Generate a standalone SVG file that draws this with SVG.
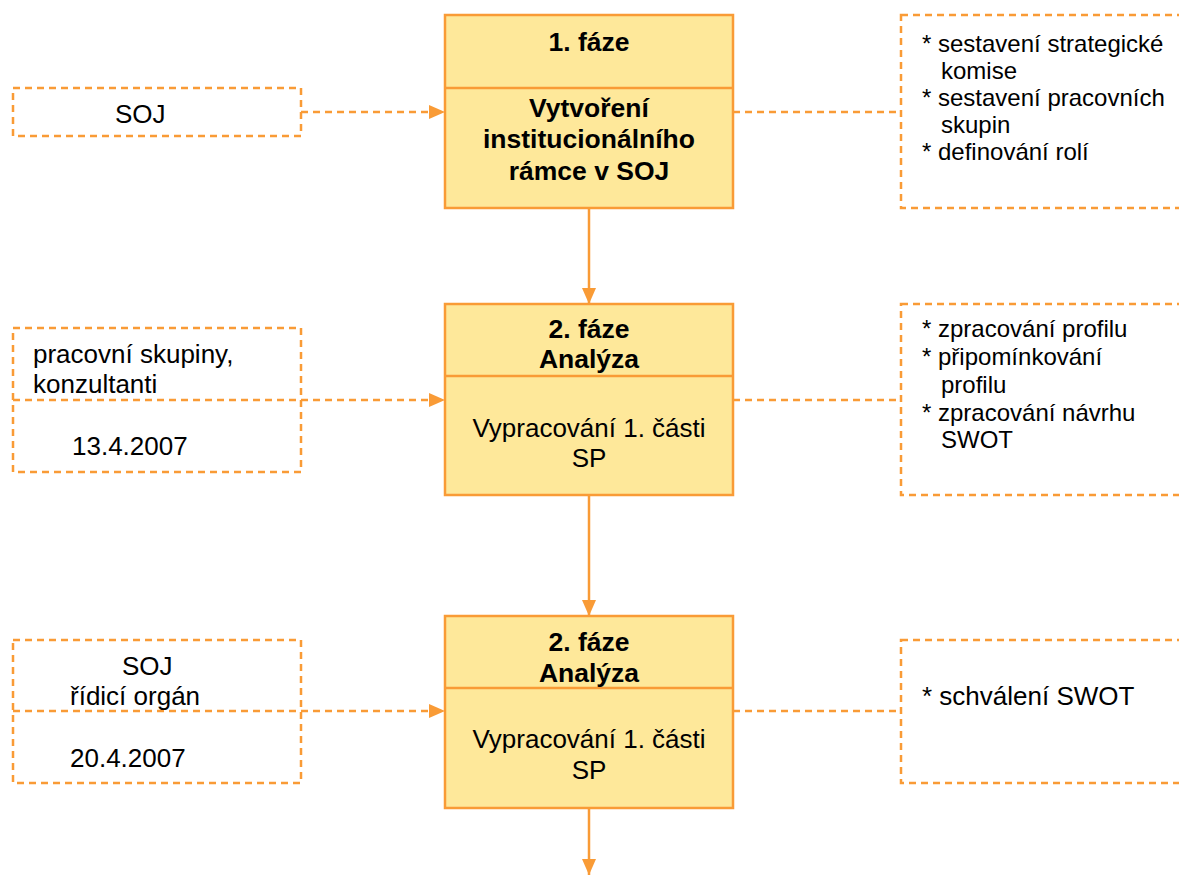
<svg xmlns="http://www.w3.org/2000/svg" width="1179" height="875" viewBox="0 0 1179 875">
<style>
.phase{fill:#FEE89A;stroke:#F99B36;stroke-width:2.5}
.div{stroke:#F99B36;stroke-width:2.5}
.note{fill:none;stroke:#F99B36;stroke-width:2.5;stroke-dasharray:7 5}
.flow{stroke:#F99B36;stroke-width:2.5;fill:none}
.dash{stroke:#F99B36;stroke-width:2.5;fill:none;stroke-dasharray:7 5}
text{font-family:"Liberation Sans",Arial,sans-serif;font-size:26px;fill:#000}
.b{font-weight:bold;font-size:26.5px}
.c{text-anchor:middle}
.r{font-size:24px}
</style>
<defs>
<marker id="ah" markerWidth="16" markerHeight="14" refX="16" refY="7" orient="auto" markerUnits="userSpaceOnUse">
<path d="M0,0 L16,7 L0,14 Z" fill="#F99B36"/>
</marker>
</defs>
<rect width="1179" height="875" fill="#fff"/>
<g id="connectors">
<line class="dash" x1="301" y1="112" x2="445" y2="112" marker-end="url(#ah)"/>
<line class="dash" x1="13" y1="400" x2="445" y2="400" marker-end="url(#ah)"/>
<line class="dash" x1="13" y1="711" x2="445" y2="711" marker-end="url(#ah)"/>
<line class="dash" x1="733" y1="112" x2="901" y2="112"/>
<line class="dash" x1="733" y1="400" x2="901" y2="400"/>
<line class="dash" x1="733" y1="711" x2="901" y2="711"/>
<line class="flow" x1="589" y1="208" x2="589" y2="304" marker-end="url(#ah)"/>
<line class="flow" x1="589" y1="495" x2="589" y2="616" marker-end="url(#ah)"/>
<line class="flow" x1="589" y1="808" x2="589" y2="875" marker-end="url(#ah)"/>
</g>
<g id="phase1">
<rect class="phase" x="445" y="15" width="288" height="193"/>
<line class="div" x1="445" y1="88" x2="733" y2="88"/>
<text class="b c" x="589" y="51">1. fáze</text>
<text class="b c" x="589" y="117">Vytvoření</text>
<text class="b c" x="589" y="148">institucionálního</text>
<text class="b c" x="589" y="180">rámce v SOJ</text>
</g>
<g id="phase2">
<rect class="phase" x="445" y="304" width="288" height="191"/>
<line class="div" x1="445" y1="376" x2="733" y2="376"/>
<text class="b c" x="589" y="338">2. fáze</text>
<text class="b c" x="589" y="368">Analýza</text>
<text class="c" x="589" y="437">Vypracování 1. části</text>
<text class="c" x="589" y="467">SP</text>
</g>
<g id="phase3">
<rect class="phase" x="445" y="616" width="288" height="192"/>
<line class="div" x1="445" y1="688" x2="733" y2="688"/>
<text class="b c" x="589" y="651">2. fáze</text>
<text class="b c" x="589" y="682">Analýza</text>
<text class="c" x="589" y="748">Vypracování 1. části</text>
<text class="c" x="589" y="779">SP</text>
</g>
<g id="left1">
<rect class="note" x="13" y="88" width="288" height="48"/>
<text x="115" y="123">SOJ</text>
</g>
<g id="left2">
<rect class="note" x="13" y="328" width="288" height="144"/>
<text x="33" y="363">pracovní skupiny,</text>
<text x="33" y="393">konzultanti</text>
<text x="72" y="455">13.4.2007</text>
</g>
<g id="left3">
<rect class="note" x="13" y="640" width="288" height="143"/>
<text x="122" y="675">SOJ</text>
<text x="70" y="705">řídicí orgán</text>
<text x="70" y="767">20.4.2007</text>
</g>
<g id="right1">
<rect class="note" x="901" y="15" width="290" height="193"/>
<text class="r" x="922" y="52">* sestavení strategické</text>
<text class="r" x="941" y="79">komise</text>
<text class="r" x="922" y="106">* sestavení pracovních</text>
<text class="r" x="941" y="133">skupin</text>
<text class="r" x="922" y="160">* definování rolí</text>
</g>
<g id="right2">
<rect class="note" x="901" y="304" width="290" height="191"/>
<text class="r" x="922" y="337">* zpracování profilu</text>
<text class="r" x="922" y="365">* připomínkování</text>
<text class="r" x="941" y="393">profilu</text>
<text class="r" x="922" y="421">* zpracování návrhu</text>
<text class="r" x="941" y="448">SWOT</text>
</g>
<g id="right3">
<rect class="note" x="901" y="640" width="290" height="143"/>
<text x="922" y="705">* schválení SWOT</text>
</g>
</svg>
